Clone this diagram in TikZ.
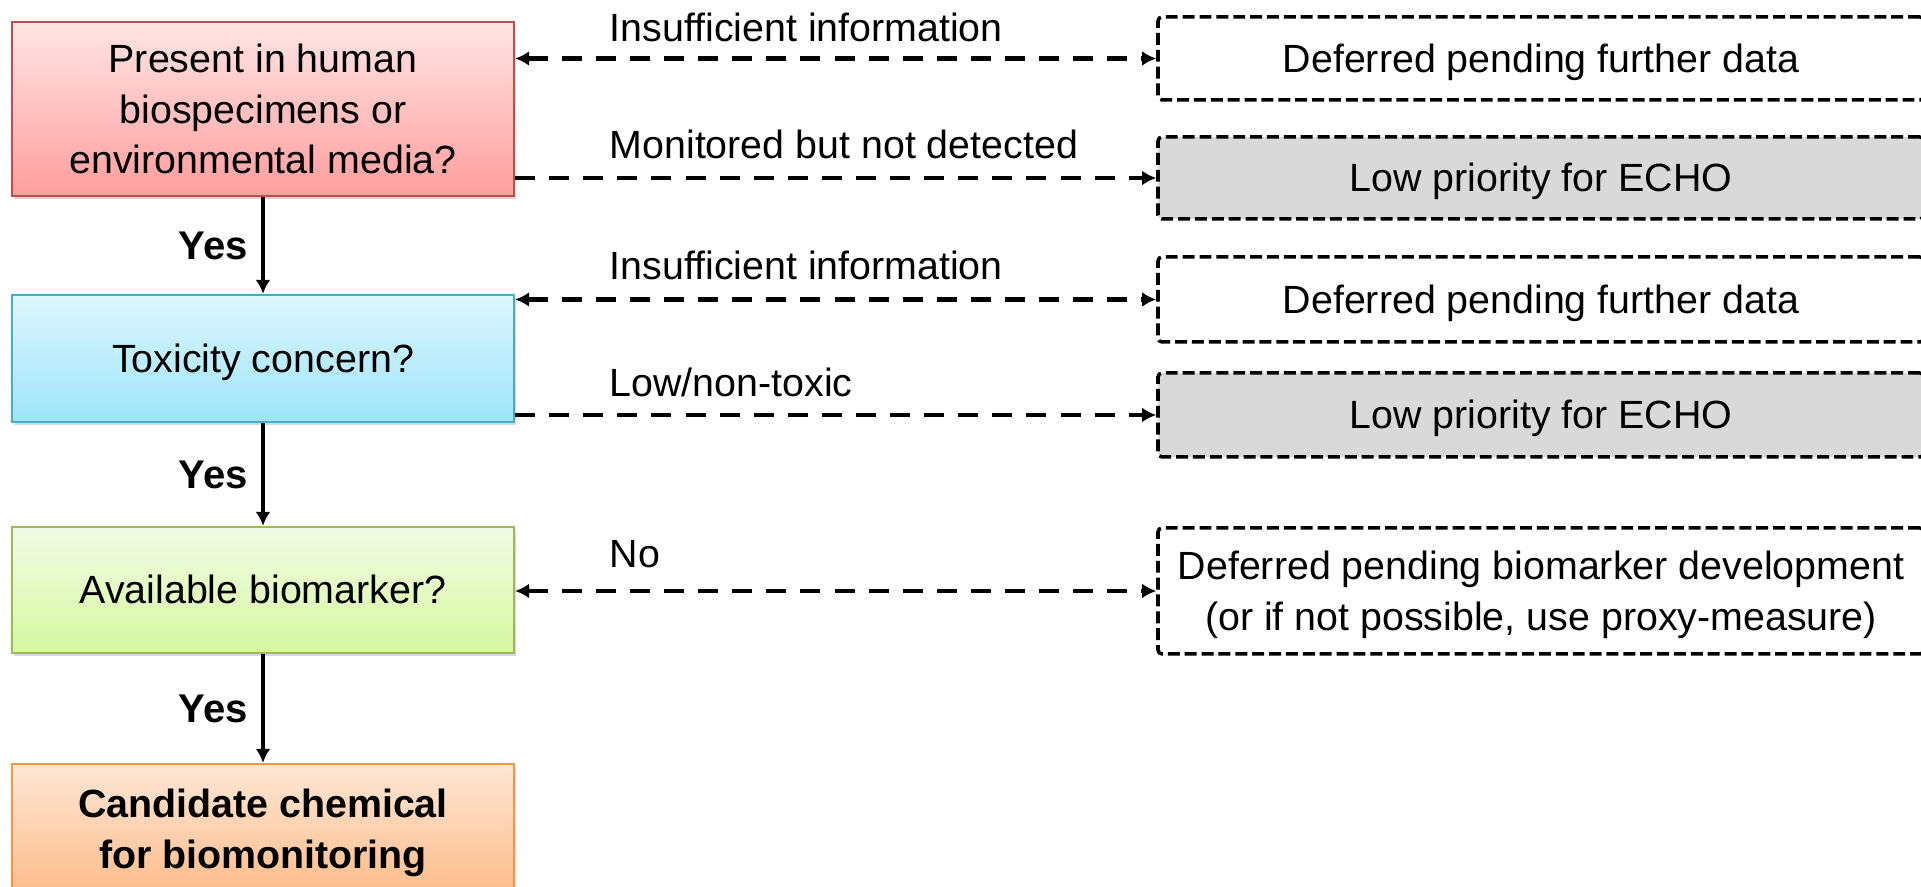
\documentclass[tikz,border=0pt]{standalone}
\usepackage{fontspec}
\setmainfont{Liberation Sans}
\usepackage{tikz}
\usetikzlibrary{shapes, arrows.meta, shadows}
\usetikzlibrary{positioning}

\definecolor{redline}{RGB}{192,80,77}
\definecolor{redtop}{RGB}{255,229,229}
\definecolor{redbot}{RGB}{255,157,157}
\definecolor{blueline}{RGB}{75,172,198}
\definecolor{bluetop}{RGB}{222,246,253}
\definecolor{bluebot}{RGB}{158,228,250}
\definecolor{greenline}{RGB}{155,187,89}
\definecolor{greentop}{RGB}{242,251,230}
\definecolor{greenbot}{RGB}{214,248,160}
\definecolor{orangeline}{RGB}{247,150,70}
\definecolor{orangetop}{RGB}{255,231,214}
\definecolor{orangebot}{RGB}{251,188,138}
\definecolor{lowgray}{RGB}{217,217,217}

\begin{document}
\begin{tikzpicture}[>={Latex[length=4pt,width=4.2pt]},
	every node/.style={font=\fontsize{11.2}{14.4}\selectfont},
	qbox/.style={rectangle, line width=0.6pt, minimum width=5.02cm, inner sep=0pt, align=center,
		drop shadow={opacity=0.3, shadow xshift=0.02cm, shadow yshift=-0.03cm}},
	outbox/.style={rectangle, draw, line width=1pt, dash pattern=on 3.4pt off 1.4pt,
		rounded corners=0.04cm, minimum width=7.66cm, inner sep=0pt, align=center},
	oneline/.style={text height=0.36cm, text depth=0.08cm},
	twoline/.style={text depth=0cm},
	dline/.style={line width=1.33pt, dash pattern=on 5.7pt off 4pt},
	vline/.style={line width=1.3pt},
	lbl/.style={anchor=base west, inner sep=0pt},
	yeslbl/.style={left, font=\fontsize{11.4}{14.4}\selectfont\bfseries, inner sep=0.13cm}
	]

\useasboundingbox (0,0) rectangle (19.21,-8.87);
\clip (0,0) rectangle (19.21,-8.87);

%Present in human biospecimens
\node[qbox, draw=redline, top color=redtop, bottom color=redbot,
minimum height=1.74cm] (present) at (2.63,-1.09) {
	Present in human\\
	biospecimens or\\
	environmental media?
	};

%Toxicity
\node[qbox, oneline, draw=blueline, top color=bluetop, bottom color=bluebot,
minimum height=1.27cm, below of=present, yshift=-1.495cm] (tox) {Toxicity concern?};

%Biomarker
\node[qbox, oneline, draw=greenline, top color=greentop, bottom color=greenbot,
minimum height=1.26cm, below of=tox, yshift=-1.315cm] (avail) {Available biomarker?};

%Candidate
\node[qbox, twoline, draw=orangeline, top color=orangetop, bottom color=orangebot,
minimum height=1.30cm, below of=avail, yshift=-1.39cm, font=\fontsize{11.2}{14.4}\selectfont\bfseries] (cand) {
	Candidate chemical\\
	for biomonitoring
	};

%Outcomes
\node[outbox, oneline, minimum height=0.83cm, right of=present, xshift=11.78cm, yshift=0.505cm] (defer1) {Deferred pending further data};
\node[outbox, oneline, fill=lowgray, minimum height=0.82cm, right of=present, xshift=11.78cm, yshift=-0.69cm] (low1) {Low priority for ECHO};
\node[outbox, oneline, minimum height=0.85cm, right of=present, xshift=11.78cm, yshift=-1.905cm] (defer2) {Deferred pending further data};
\node[outbox, oneline, fill=lowgray, minimum height=0.84cm, right of=present, xshift=11.78cm, yshift=-3.06cm] (low2) {Low priority for ECHO};
\node[outbox, twoline, minimum height=1.26cm, right of=present, xshift=11.78cm, yshift=-4.82cm] (defer3) {
	Deferred pending biomarker development\\
	(or if not possible, use proxy-measure)
	};

%Labels
\node[lbl] (insuf1) at (6.09,-0.42) {Insufficient information};
\node[lbl] (notdet) at (6.09,-1.59) {Monitored but not detected};
\node[lbl] (insuf2) at (6.09,-2.80) {Insufficient information};
\node[lbl] (lowtox) at (6.09,-3.97) {Low/non-toxic};
\node[lbl] (nobio) at (6.09,-5.68) {No};

%Paths
%yes branch
\draw[->, vline] (present) -- node[yeslbl] {Yes} (tox);
\draw[->, vline] (tox) -- node[yeslbl] {Yes} (avail);
\draw[->, vline] (avail) -- node[yeslbl] {Yes} (cand);

%side branches
\draw[<->, dline] (present.east |- defer1.west) -- (defer1.west);
\draw[->, dline] (present.east |- low1.west) -- (low1.west);
\draw[<->, dline] (tox.east |- defer2.west) -- (defer2.west);
\draw[->, dline] (tox.east |- low2.west) -- (low2.west);
\draw[<->, dline] (avail.east |- defer3.west) -- (defer3.west);

\end{tikzpicture}
\end{document}
